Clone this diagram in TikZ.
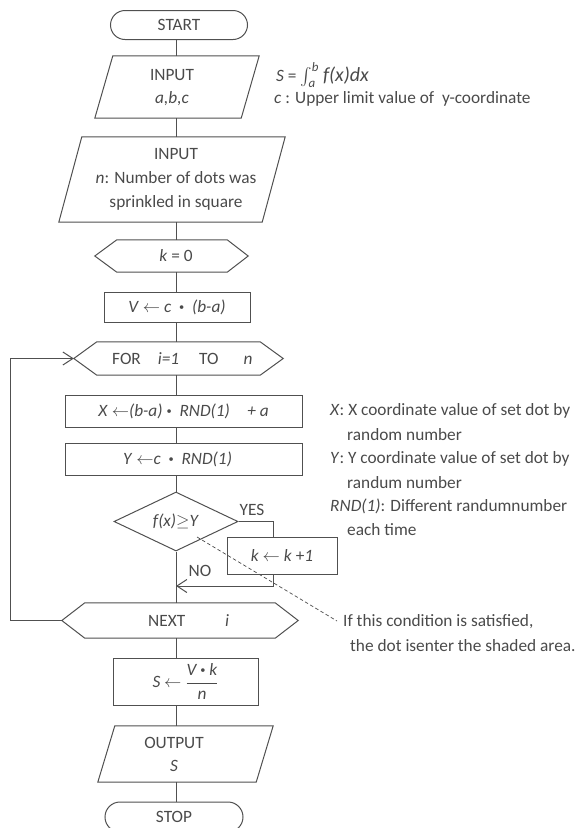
\documentclass[tikz,border=0pt]{standalone}
\usepackage{amsmath}
\usepackage{fontspec}
\setmainfont{Carlito}
\usetikzlibrary{shapes.geometric,shapes.misc,arrows.meta,calc}
\definecolor{ink}{HTML}{4A4A4A}
\definecolor{edge}{HTML}{505050}
% small centred multiplication dot
\newcommand{\mdot}{\raisebox{0.25ex}{\scalebox{0.6}{\textbullet}}}
\begin{document}
\begin{tikzpicture}[x=1pt,y=-1pt,
  every node/.style={text=ink, font=\fontsize{17.3}{20}\selectfont},
  line/.style={draw=edge, line width=1pt},
  box/.style={line, rectangle, inner sep=0pt, align=center},
  ghost/.style={rectangle, inner sep=0pt},
  txt/.style={inner sep=0pt, align=center},
  lbl/.style={inner sep=0pt, align=left, anchor=west},
  tip/.style={-{Straight Barb[length=10pt,width=13pt]}},
]
\useasboundingbox (0,0) rectangle (577,828);
\clip (0,0) rectangle (577,828);

\coordinate (ax) at (176,0);

% terminals
\node[line, rounded rectangle, minimum width=137pt, minimum height=29pt, inner sep=0pt] (start) at (179,25) {START};
\node[line, rounded rectangle, minimum width=138pt, minimum height=30pt, inner sep=0pt] (stop) at (174,817) {STOP};

% INPUT a,b,c
\node[ghost, minimum width=164pt, minimum height=62pt] (in1) at (177,87) {};
\draw[line] ($(in1.north west)+(18,0)$) -- (in1.north east) -- ($(in1.south east)+(-18,0)$) -- (in1.south west) -- cycle;
\node[txt] (in1t) at (172,87.5) {INPUT\\[3pt]\textit{a,b,c}};

% INPUT n
\node[ghost, minimum width=226pt, minimum height=85pt] (in2) at (172,179.5) {};
\draw[line] ($(in2.north west)+(23,0)$) -- (in2.north east) -- ($(in2.south east)+(-23,0)$) -- (in2.south west) -- cycle;
\node[txt] (in2t) at (176,179) {INPUT\\[4pt]\textit{n}: Number of dots was\\[4pt]sprinkled in square};

% k = 0
\node[ghost, minimum width=153pt, minimum height=32pt] (k0) at (171.5,256) {};
\draw[line] (k0.west) -- ($(k0.north west)+(22,0)$) -- ($(k0.north east)+(-21,0)$) -- (k0.east) -- ($(k0.south east)+(-21,0)$) -- ($(k0.south west)+(22,0)$) -- cycle;
\node[txt] (k0t) at (176,256) {\textit{k} = 0};

% V <- c (b-a)
\node[box, minimum width=146pt, minimum height=30pt] (v) at (177,307) {\textit{V} $\leftarrow$ \textit{c}\ \ \mdot\ \ \textit{(b-a)}};

% FOR loop head
\node[ghost, minimum width=209pt, minimum height=33pt] (for) at (178.5,358.5) {};
\draw[line] (for.west) -- ($(for.north west)+(23,0)$) -- ($(for.north east)+(-23,0)$) -- (for.east) -- ($(for.south east)+(-23,0)$) -- ($(for.south west)+(23,0)$) -- cycle;
\node[lbl] (fort) at (112,358.5) {FOR\hspace{17pt}\textit{i=1}\hspace{20pt}TO\hspace{25pt}\textit{n}};

% random point
\node[box, minimum width=237pt, minimum height=32pt] (xb) at (183.5,411) {\textit{X} $\leftarrow$\textit{(b-a)}\ \mdot\ \ \textit{RND(1)}\quad\textit{+ a}};
\node[box, minimum width=237pt, minimum height=32pt] (yb) at (183.5,459) {\textit{Y} $\leftarrow$\textit{c}\ \ \mdot\ \ \textit{RND(1)}\hspace{12pt}};

% test
\node[line, diamond, aspect=2.1, minimum width=124pt, minimum height=59pt, inner sep=0pt] (dia) at (176,521.5) {\textit{f(x)}$\geq$\textit{Y}};
\node[box, minimum width=110pt, minimum height=37pt] (kk) at (282,555.5) {\textit{k} $\leftarrow$ \textit{k} +\textit{1}};
\node[txt] (yes) at (252,510) {YES};
\node[txt] (no) at (200,571) {NO};

\coordinate (yx) at (273,0);
\coordinate (nojoin) at (176,586);
\draw[line] (dia.east) -| (kk.north -| yx);
\draw[line, tip] (kk.south -| yx) |- (nojoin);

% NEXT i
\node[ghost, minimum width=236pt, minimum height=35pt] (next) at (180,620.5) {};
\draw[line] (next.west) -- ($(next.north west)+(23,0)$) -- ($(next.north east)+(-23,0)$) -- (next.east) -- ($(next.south east)+(-23,0)$) -- ($(next.south west)+(23,0)$) -- cycle;
\node[lbl] (nextt) at (148,620.5) {NEXT\hspace{40pt}\textit{i}};

% loop back
\coordinate (lx) at (10,0);
\draw[line, tip] (next.west) -- (next.west -| lx) |- (for.west);

% result
\node[box, minimum width=145pt, minimum height=47pt] (sb) at (185.5,681.5) {\textit{S} $\leftarrow$ $\dfrac{\textit{V}\ \mdot\ \textit{k}}{\textit{n}}$};

% OUTPUT S
\node[ghost, minimum width=175pt, minimum height=56pt] (out) at (185.5,754) {};
\draw[line] ($(out.north west)+(17,0)$) -- (out.north east) -- ($(out.south east)+(-17,0)$) -- (out.south west) -- cycle;
\node[txt] (outt) at (174,754) {OUTPUT\\[3pt]\textit{S}};

% main flow
\foreach \a/\b in {start/in1, in1/in2, in2/k0, k0/v, v/for, for/xb, xb/yb, yb/dia, dia/next, next/sb, sb/out, out/stop}
  \draw[line] (\a.south -| ax) -- (\b.north -| ax);

% notes
\node[lbl] (integ) at (276,75) {\textit{S} = {\fontsize{18.5}{22}\selectfont$\int_{\textit{a}}^{\textit{b}}$} {\fontsize{20}{24}\selectfont\textit{f(x)dx}}};
\node[lbl] (cnote) at (274,99) {\textit{c} : Upper limit value of\ \ y-coordinate};
\node[lbl] (xnote) at (330,411) {\textit{X}: X coordinate value of set dot by};
\node[lbl] (xnote2) at (347,435) {random number};
\node[lbl] (ynote) at (330,459) {\textit{Y}: Y coordinate value of set dot by};
\node[lbl] (ynote2) at (347,483) {randum number};
\node[lbl] (rnote) at (330,506) {\textit{RND(1)}: Different randumnumber};
\node[lbl] (rnote2) at (347,530) {each time};
\node[lbl] (ifn) at (343,622) {If this condition is satisfied,};
\node[lbl] (ifn2) at (350,646) {the dot isenter the shaded area.};

\coordinate (dstart) at (197,537);
\coordinate (dend) at (337,621);
\draw[line, line width=0.7pt, dash pattern=on 3.5pt off 2.5pt] (dstart) -- (dend);
\end{tikzpicture}
\end{document}
